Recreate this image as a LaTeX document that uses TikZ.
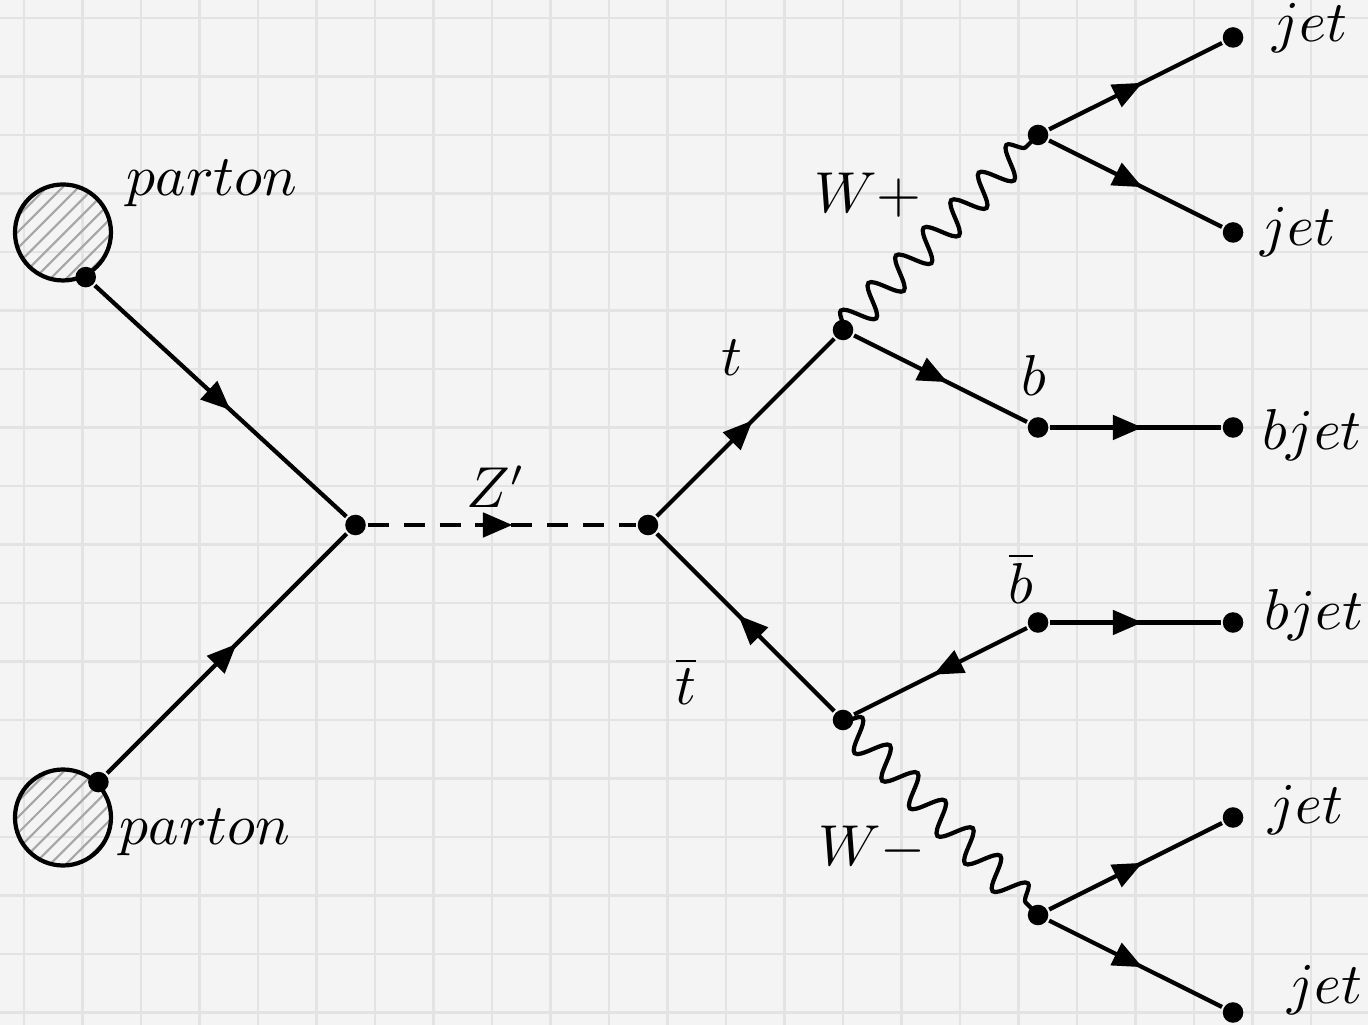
\documentclass[tikz,border=0pt]{standalone}
\usetikzlibrary{arrows.meta,decorations.markings,decorations.pathmorphing,patterns}
\definecolor{bgc}{HTML}{F4F4F4}
\definecolor{gridc}{HTML}{E3E3E3}

\begin{document}
\begin{tikzpicture}[x=1.3cm,y=1.3cm,line width=0.8pt,font=\fontsize{10.5}{12}\selectfont]
\tikzstyle{vtx}=[circle,fill,inner sep=0pt,minimum size=3.9pt]
\tikzstyle{blob}=[draw,circle,inner sep=0pt,minimum size=0.64cm,pattern=north east lines,pattern color=gray!70]
\tikzstyle{fermion}=[postaction={decorate},decoration={markings,mark=at position 0.54 with {\arrow{Triangle[length=5.6pt,width=4.6pt]}}}]
\tikzstyle{boson}=[decorate,decoration={snake,amplitude=2.9pt,segment length=7.4pt}]
\tikzstyle{scalar}=[dashed,dash pattern=on 4pt off 2.8pt]
% background grid
\clip (-3.323,-2.564) rectangle (3.692,2.692);
\fill[bgc] (-3.323,-2.564) rectangle (3.692,2.692);
\draw[gridc,line width=0.4pt,shift={(0.1,0.2)},step=0.3] (-3.6,-2.9) grid (3.7,2.6);
% incoming partons
\node[blob] (b1) at (-3,1.5) {};
\node[blob] (b2) at (-3,-1.5) {};
\node[vtx] (p1) at (b1.-63) {};
\node[vtx] (p2) at (b2.45) {};
% vertices
\node[vtx] (v1) at (-1.5,0) {};
\node[vtx] (v2) at (0,0) {};
\node[vtx] (t) at (1,1) {};
\node[vtx] (tb) at (1,-1) {};
\node[vtx] (wp) at (2,2) {};
\node[vtx] (wm) at (2,-2) {};
\node[vtx] (b) at (2,0.5) {};
\node[vtx] (bb) at (2,-0.5) {};
\node[vtx] (j1) at (3,2.5) {};
\node[vtx] (j2) at (3,1.5) {};
\node[vtx] (bj1) at (3,0.5) {};
\node[vtx] (bj2) at (3,-0.5) {};
\node[vtx] (j3) at (3,-1.5) {};
\node[vtx] (j4) at (3,-2.5) {};
% lines
\draw[fermion] (p1) -- (v1);
\draw[fermion] (p2) -- (v1);
\draw[scalar] (v1) -- (v2);
\path[fermion] (v1) -- (v2);
\draw[fermion] (v2) -- (t);
\draw[fermion] (tb) -- (v2);
\draw[boson] (t.center) -- (wp.center);
\draw[boson] (tb.center) -- (wm.center);
\draw[fermion] (t) -- (b);
\draw[fermion] (bb) -- (tb);
\draw[fermion] (b) -- (bj1);
\draw[fermion] (bb) -- (bj2);
\draw[fermion] (wp) -- (j1);
\draw[fermion] (wp) -- (j2);
\draw[fermion] (wm) -- (j3);
\draw[fermion] (wm) -- (j4);
% labels
\node (lp1) at (-2.236,1.754) {$parton$};
\node (lp2) at (-2.272,-1.574) {$parton$};
\node (lz) at (-0.779,0.195) {$Z'$};
\node (lt) at (0.431,0.856) {$t$};
\node (ltb) at (0.195,-0.8) {$\overline{t}$};
\node (lwp) at (1.128,1.692) {$W+$};
\node (lwm) at (1.149,-1.656) {$W-$};
\node (lb) at (1.979,0.769) {$b$};
\node (lbb) at (1.913,-0.272) {$\overline{b}$};
\node (lj1) at (3.395,2.55) {$jet$};
\node (lj2) at (3.333,1.503) {$jet$};
\node (lbj1) at (3.405,0.462) {$bjet$};
\node (lbj2) at (3.415,-0.462) {$bjet$};
\node (lj3) at (3.374,-1.462) {$jet$};
\node (lj4) at (3.472,-2.385) {$jet$};
\end{tikzpicture}
\end{document}
